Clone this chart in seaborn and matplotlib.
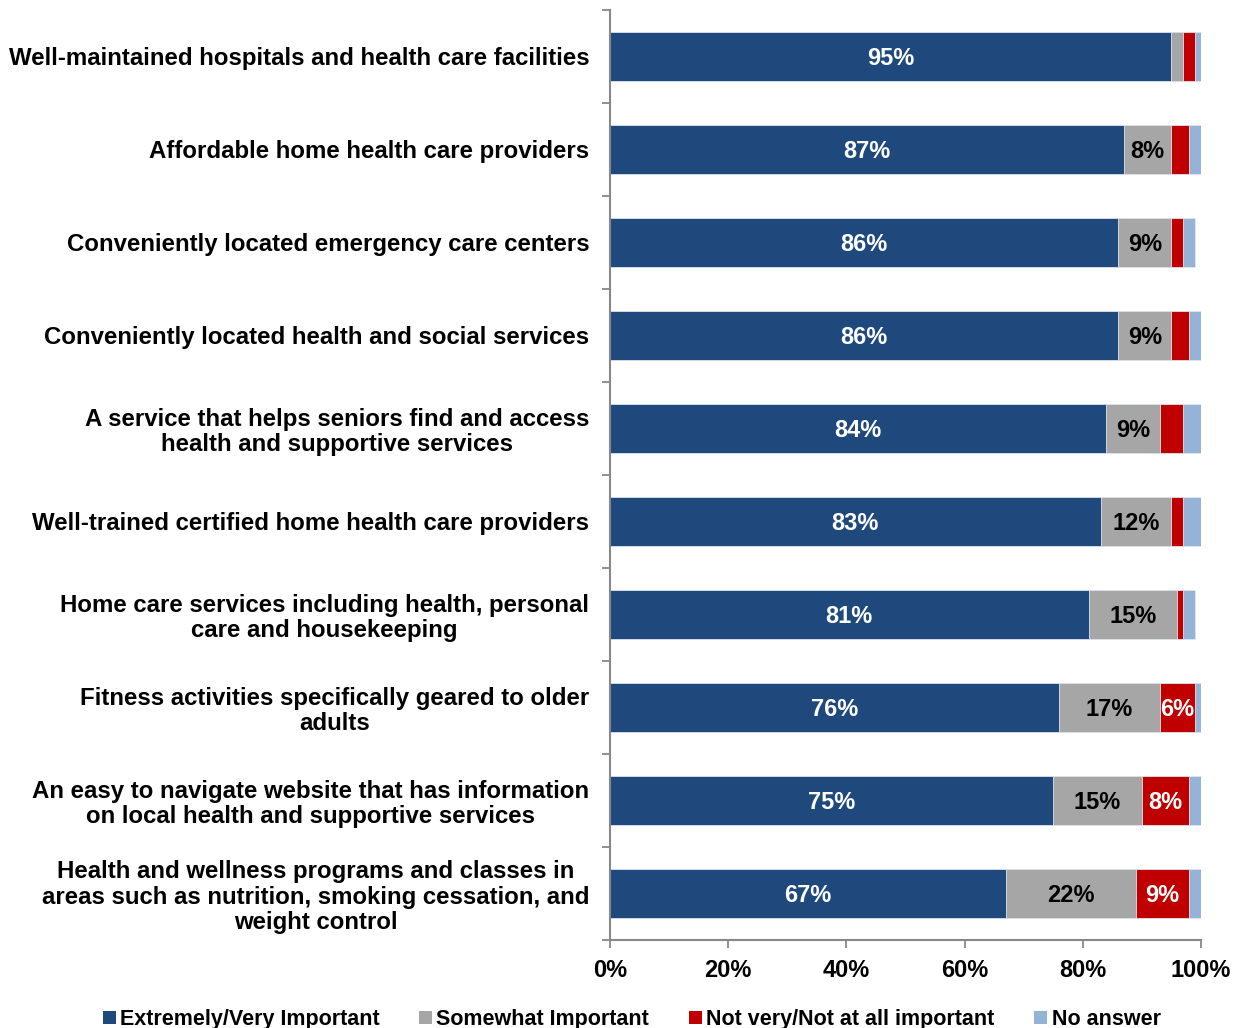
import matplotlib
matplotlib.use("Agg")
import matplotlib.pyplot as plt
from matplotlib.patches import Patch
from matplotlib.ticker import FixedLocator
import seaborn as sns
import pandas as pd
import numpy as np

categories = [
    "Well-maintained hospitals and health care facilities",
    "Affordable home health care providers",
    "Conveniently located emergency care centers",
    "Conveniently located health and social services",
    "A service that helps seniors find and access\nhealth and supportive services",
    "Well-trained certified home health care providers",
    "Home care services including health, personal\ncare and housekeeping",
    "Fitness activities specifically geared to older\nadults",
    "An easy to navigate website that has information\non local health and supportive services",
    "Health and wellness programs and classes in\nareas such as nutrition, smoking cessation, and\nweight control",
]
extremely_very = [95, 87, 86, 86, 84, 83, 81, 76, 75, 67]
somewhat = [2, 8, 9, 9, 9, 12, 15, 17, 15, 22]
not_important = [2, 3, 2, 3, 4, 2, 1, 6, 8, 9]
no_answer = [1, 2, 2, 2, 3, 3, 2, 1, 2, 2]
x_ticks = [0, 20, 40, 60, 80, 100]
x_tick_labels = ["0%", "20%", "40%", "60%", "80%", "100%"]

series_names = ["Extremely/Very Important", "Somewhat Important",
                "Not very/Not at all important", "No answer"]
series_values = [extremely_very, somewhat, not_important, no_answer]
colors = ["#1F497D", "#A6A6A6", "#C00000", "#95B3D7"]
label_colors = ["white", "black", "white", None]

sns.set_theme(style="white")
plt.rcParams["font.family"] = ["Liberation Sans", "DejaVu Sans"]
plt.rcParams["font.weight"] = "bold"
plt.rcParams["text.color"] = "black"
plt.rcParams["xtick.color"] = "black"
plt.rcParams["ytick.color"] = "black"

fig = plt.figure(figsize=(12.36, 10.28), dpi=100)
ax = fig.add_axes([610 / 1236, 88 / 1028, 591 / 1236, 930 / 1028])

vals = np.array(series_values, dtype=float)
cum = np.cumsum(vals, axis=0)

# Stacked bars: draw cumulative totals from the outermost segment inward
for i in range(len(series_names) - 1, -1, -1):
    df = pd.DataFrame({"category": categories, "value": cum[i]})
    sns.barplot(data=df, x="value", y="category", orient="h", color=colors[i],
                width=0.52, edgecolor="#dfe6ef", linewidth=0.6, ax=ax,
                saturation=1)

# Segment value labels
for i in range(3):
    starts = cum[i] - vals[i]
    for j, v in enumerate(vals[i]):
        if v >= 6:
            ax.text(starts[j] + v / 2, j + 0.02, f"{int(v)}%", ha="center",
                    va="center", color=label_colors[i], fontsize=17,
                    fontweight="bold")

ax.set_xlim(0, 100)
ax.set_ylim(len(categories) - 0.5, -0.5)
ax.set_xlabel("")
ax.set_ylabel("")

ax.xaxis.set_major_locator(FixedLocator(x_ticks))
ax.set_xticklabels(x_tick_labels)
ax.tick_params(axis="x", which="major", length=6, width=1.3, color="#888888",
               direction="out", bottom=True, pad=8, labelsize=17,
               labelcolor="black")
ax.tick_params(axis="y", which="major", length=0, pad=15, labelsize=17.3,
               labelcolor="black")
ax.yaxis.set_minor_locator(FixedLocator(np.arange(-0.5, len(categories), 1.0)))
ax.tick_params(axis="y", which="minor", length=6, width=1.3, color="#888888",
               direction="out", left=True)
for lbl in ax.get_yticklabels():
    lbl.set_multialignment("center")
    lbl.set_fontweight("bold")
    lbl.set_linespacing(1.12)
for lbl in ax.get_xticklabels():
    lbl.set_fontweight("bold")

for side in ["top", "right"]:
    ax.spines[side].set_visible(False)
for side in ["left", "bottom"]:
    ax.spines[side].set_color("#888888")
    ax.spines[side].set_linewidth(1.5)

handles = [Patch(facecolor=c, edgecolor="none") for c in colors]
fig.legend(handles, series_names, loc="lower center", ncol=4,
           bbox_to_anchor=(0.511, -0.021), frameon=False,
           handlelength=0.6, handleheight=0.6, handletextpad=0.2,
           columnspacing=1.85, prop={"weight": "bold", "size": 15.5})

fig.savefig("out.png", dpi=100)
